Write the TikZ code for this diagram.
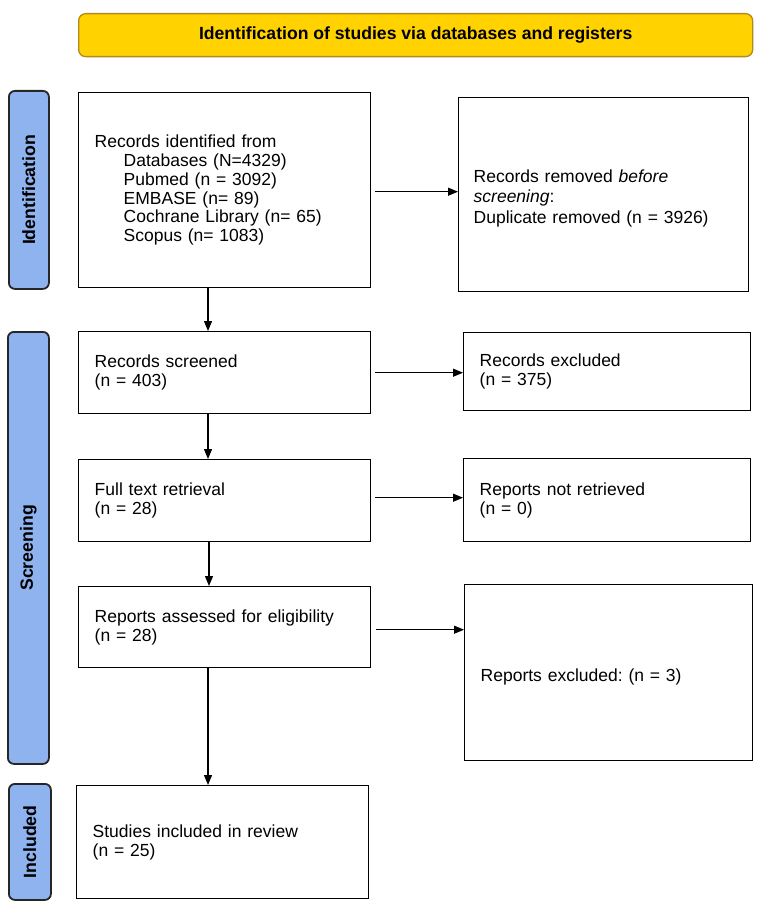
\documentclass[tikz,border=0pt]{standalone}
\usepackage{fontspec}
\setmainfont{Liberation Sans}
\usetikzlibrary{arrows.meta}
\definecolor{bannerfill}{HTML}{FFD200}
\definecolor{bannerdraw}{HTML}{B08A1A}
\definecolor{barblue}{HTML}{8FB3EF}
\frenchspacing
\begin{document}
\begin{tikzpicture}[x=1pt,y=-1pt,
  box/.style={draw=black, line width=1.4pt, fill=white, inner xsep=16pt, inner ysep=0pt,
    align=left, anchor=north west, font=\fontsize{17.5}{19}\selectfont\frenchspacing},
  bar/.style={draw=black!85, line width=1.8pt, fill=barblue, rounded corners=6pt,
    anchor=north west, inner sep=0pt, font=\fontsize{17.7}{19}\selectfont\bfseries},
  arr/.style={-{Triangle[length=10pt,width=8pt]}, line width=1.2pt},
]
\useasboundingbox (0,0) rectangle (765,909);

% banner
\node[draw=bannerdraw, line width=1.3pt, fill=bannerfill, rounded corners=7pt, anchor=north west,
  minimum width=674pt, minimum height=43pt, inner sep=0pt,
  font=\fontsize{17.6}{19}\selectfont\bfseries] (banner) at (78,13)
  {Identification of studies via databases and registers};

% side bars
\node[bar, minimum width=40pt, minimum height=198pt] (bid) at (8,90) {\rotatebox{90}{Identification}};
\node[bar, minimum width=41pt, minimum height=432pt] (bsc) at (7,331) {\rotatebox{90}{Screening}};
\node[bar, minimum width=42pt, minimum height=116pt] (bin) at (8,783) {\rotatebox{90}{Included}};

% left column
\node[box, text width=260pt, minimum height=195pt, font=\fontsize{17.5}{18.8}\selectfont] (L1) at (78,92)
  {Records identified from\\
   \hspace*{29pt}Databases (N=4329)\\
   \hspace*{29pt}Pubmed (n = 3092)\\
   \hspace*{29pt}EMBASE (n= 89)\\
   \hspace*{29pt}Cochrane Library (n= 65)\\
   \hspace*{29pt}Scopus (n= 1083)\\[17pt]};
\node[box, text width=260pt, minimum height=82pt] (L2) at (78,331)
  {Records screened\\(n = 403)};
\node[box, text width=260pt, minimum height=82pt] (L3) at (78,459)
  {Full text retrieval\\(n = 28)\\[4pt]};
\node[box, text width=260pt, minimum height=81pt] (L4) at (78,586)
  {Reports assessed for eligibility\\(n = 28)\\[6pt]};
\node[box, text width=260pt, minimum height=113pt] (L5) at (76,785)
  {Studies included in review\\(n = 25)\\[8pt]};

% right column
\node[box, text width=260pt, minimum height=194pt, inner xsep=15pt] (R1) at (458,97)
  {\rule{0pt}{20pt}Records removed \textit{before}\\[1.5pt]
   \textit{screening}:\\[1.5pt]
   Duplicate removed (n = 3926)};
\node[box, text width=255pt, minimum height=78pt] (R2) at (463,332)
  {Records excluded\\(n = 375)};
\node[box, text width=255pt, minimum height=83pt] (R3) at (463,458)
  {Reports not retrieved\\(n = 0)};
\node[box, text width=256pt, minimum height=176pt] (R4) at (464,584)
  {\rule{0pt}{21pt}Reports excluded: (n = 3)};

% vertical arrows
\draw[arr] ([xshift=130pt]L1.south west) -- ([xshift=130pt]L2.north west);
\draw[arr] ([xshift=130pt]L2.south west) -- ([xshift=130pt]L3.north west);
\draw[arr] ([xshift=131pt]L3.south west) -- ([xshift=131pt]L4.north west);
\draw[arr] ([xshift=130pt]L4.south west) -- ([xshift=130pt]L4.south west |- L5.north);

% horizontal arrows
\draw[arr, shorten <=4pt] ([yshift=-1.5pt]L1.east) -- ([yshift=-1.5pt]L1.east -| R1.west);
\draw[arr, shorten <=4pt] (L2.east) -- (L2.east -| R2.west);
\draw[arr, shorten <=4pt] ([yshift=3pt]L3.east) -- ([yshift=3pt]L3.east -| R3.west);
\draw[arr, shorten <=5pt] ([yshift=-2.5pt]L4.east) -- ([yshift=-2.5pt]L4.east -| R4.west);
\end{tikzpicture}
\end{document}
